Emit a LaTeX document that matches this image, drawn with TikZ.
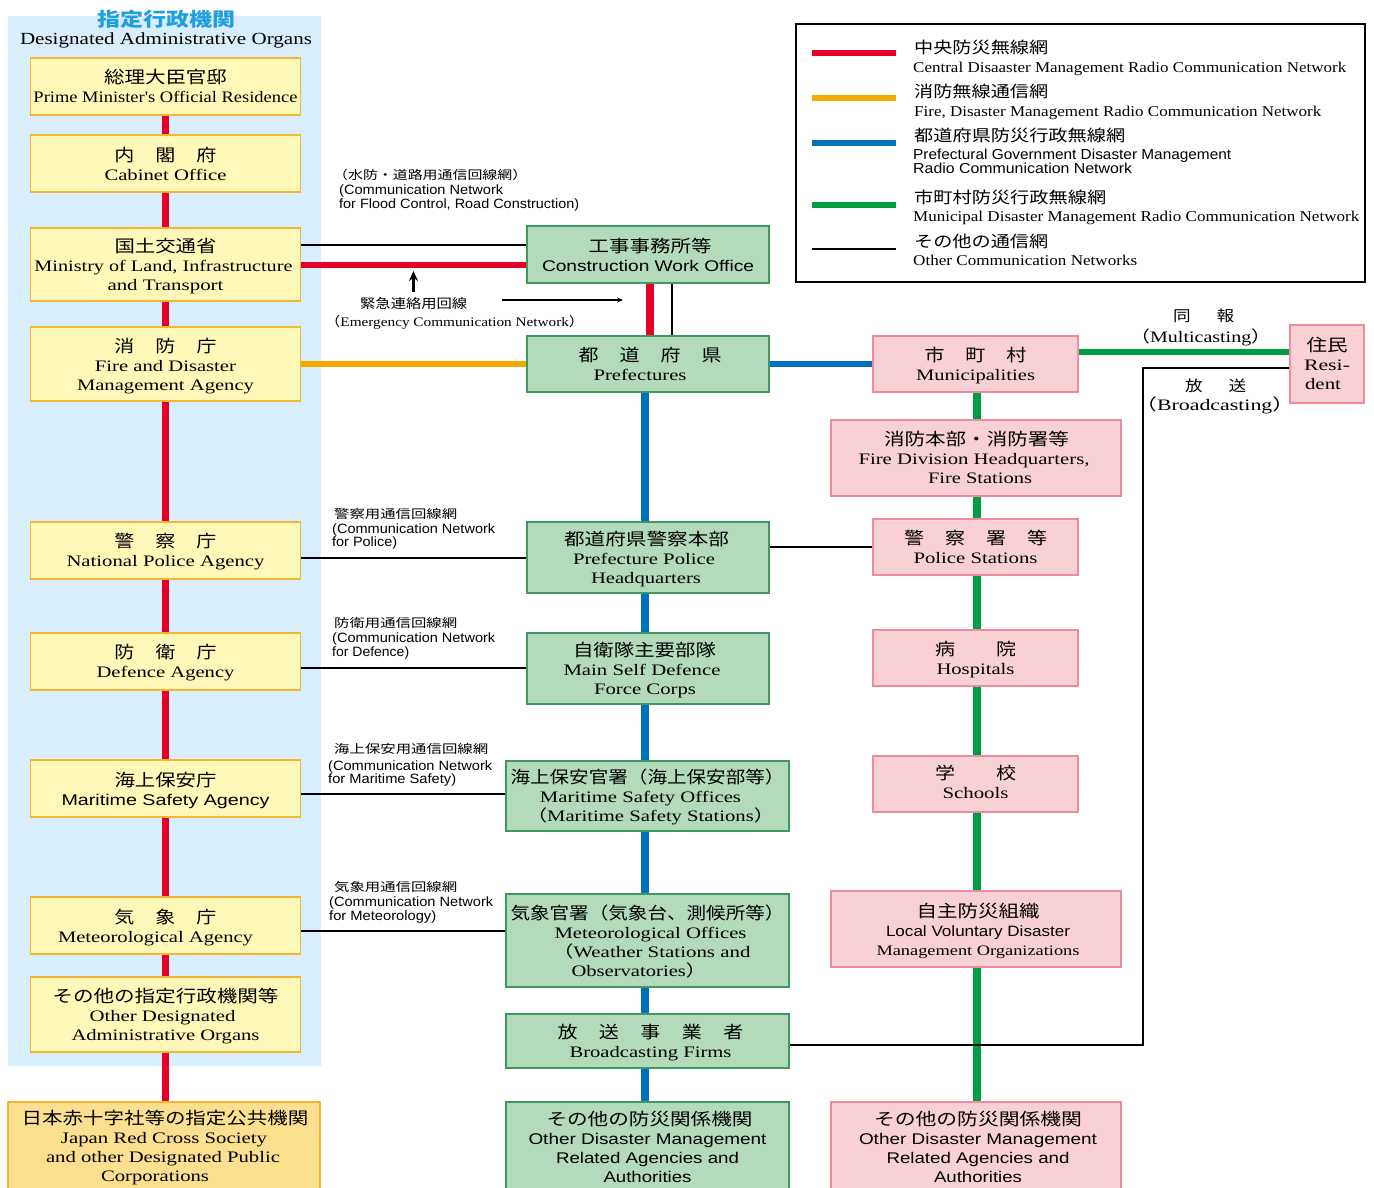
\documentclass[tikz,border=0pt]{standalone}
\usepackage{fontspec}
\usetikzlibrary{arrows.meta}
\setmainfont{Liberation Serif}
\newfontfamily\enfont{Liberation Serif}
\newfontfamily\arfont{Liberation Sans}
\newfontfamily\cjfont{Noto Sans CJK JP}
\definecolor{bgblue}{HTML}{D9EEFC}
\definecolor{yfill}{HTML}{FFF8B8}
\definecolor{yedge}{HTML}{F2B632}
\definecolor{gfill}{HTML}{B2DABB}
\definecolor{gedge}{HTML}{3C9A5F}
\definecolor{pfill}{HTML}{F9D0D3}
\definecolor{pedge}{HTML}{EE8C9C}
\definecolor{ofill}{HTML}{FDE08F}
\definecolor{netred}{HTML}{E60027}
\definecolor{netorange}{HTML}{F2A900}
\definecolor{netblue}{HTML}{0071BC}
\definecolor{netgreen}{HTML}{009E42}
\definecolor{titleblue}{HTML}{1EA0E0}
\def\dy{3.5}
\newcommand\En[3][16]{\raisebox{-\dy pt}[\height][\depth]{\resizebox{#2pt}{\height}{\fontsize{#1}{19}\selectfont\enfont #3}}}
\newcommand\Sa[3][13.5]{\raisebox{-\dy pt}[\height][\depth]{\resizebox{#2pt}{\height}{\fontsize{#1}{19}\selectfont\arfont #3}}}
\newcommand\Ja[3][17]{\raisebox{-\dy pt}[\height][\depth]{\resizebox{#2pt}{\height}{\fontsize{#1}{19}\selectfont\cjfont #3}}}
\newcommand\Jw[3][17]{\raisebox{-\dy pt}[\height][\depth]{\resizebox{#2pt}{\height}{\makebox[\dimexpr #2pt*85/100\relax][s]{\fontsize{#1}{19}\selectfont\cjfont #3}}}}
\newcommand\Jp[1]{{\cjfont #1}}
\newcommand\sh[1]{\kern\dimexpr #1pt*2\relax}
\tikzset{
  x=1pt,y=-1pt,
  orgbox/.style={draw,line width=1.2pt,inner sep=0pt,align=center,font=\fontsize{16}{19}\selectfont},
  ybox/.style={orgbox,fill=yfill,draw=yedge},
  obox/.style={orgbox,fill=ofill,draw=yedge},
  gbox/.style={orgbox,fill=gfill,draw=gedge},
  pbox/.style={orgbox,fill=pfill,draw=pedge},
  lab/.style={inner sep=0pt,anchor=mid west,font=\fontsize{13}{14}\selectfont},
  redl/.style={netred,line width=7.5pt},
  redh/.style={netred,line width=6pt},
  orl/.style={netorange,line width=6pt},
  bluel/.style={netblue,line width=7.5pt},
  blueh/.style={netblue,line width=6pt},
  greenl/.style={netgreen,line width=7.5pt},
  greenh/.style={netgreen,line width=6pt},
  blk/.style={black,line width=2pt},
  legl/.style={line width=6pt},
}
\newcommand\bx[7]{\gdef\dy{#1}\node[#2,minimum width=#5pt-#4pt,minimum height=#7pt-#6pt] (#3) at ({(#4+#5)/2},{(#6+#7)/2})}
\begin{document}
\begin{tikzpicture}
\useasboundingbox (0,0) rectangle (1374,1187);
\clip (0,0) rectangle (1374,1187);
\fill[white] (0,0) rectangle (1374,1187);
\node[fill=bgblue,inner sep=0pt,minimum width=313pt,minimum height=1050pt] (panel) at (164.5,541) {};
\node[inner sep=0pt,anchor=mid] (t1) at (166,20.5) {\Ja[19]{138}{\bfseries\color{titleblue}指定行政機関}};
\node[inner sep=0pt,anchor=mid,font=\fontsize{16}{19}\selectfont] (t2) at (166,38.5) {\En[17]{292}{Designated Administrative Organs}};
% left column
\bx{-1}{ybox}{pm}{30.5}{300.5}{58}{115} {\Ja{123}{総理大臣官邸}\\\En{264}{Prime Minister's Official Residence}};
\bx{0}{ybox}{cab}{30.5}{300.5}{135}{192} {\Jw{102}{内\hfill 閣\hfill 府}\\\En{122}{Cabinet Office}};
\bx{2}{ybox}{mlit}{30.5}{300.5}{228}{301} {\Ja{102}{国土交通省}\\\sh{-2}\En{258}{Ministry of Land, Infrastructure}\\\En{116}{and Transport}};
\bx{2.5}{ybox}{fdma}{30.5}{300.5}{327}{401} {\Jw{102}{消\hfill 防\hfill 庁}\\\En{141}{Fire and Disaster}\\\En{177}{Management Agency}};
\bx{1.5}{ybox}{npa}{30.5}{300.5}{522}{579} {\Jw{102}{警\hfill 察\hfill 庁}\\\En{198}{National Police Agency}};
\bx{1}{ybox}{dfa}{30.5}{300.5}{633}{690} {\Jw{102}{防\hfill 衛\hfill 庁}\\\En{138}{Defence Agency}};
\bx{1.5}{ybox}{msa}{30.5}{300.5}{760}{817} {\Ja{102}{海上保安庁}\\\Sa[15.5]{208}{Maritime Safety Agency}};
\bx{2}{ybox}{jma}{30.5}{300.5}{897}{954} {\Jw{102}{気\hfill 象\hfill 庁}\\\sh{-10}\En{195}{Meteorological Agency}};
\bx{2}{ybox}{oth}{30.5}{300.5}{977}{1052} {\Ja{226}{その他の指定行政機関等}\\\sh{-3}\En{146}{Other Designated}\\\En{188}{Administrative Organs}};
\bx{1}{obox}{jrc}{8}{320}{1102}{1192} {\sh{1}\Ja{287}{日本赤十字社等の指定公共機関}\\\En{206}{Japan Red Cross Society}\\\sh{-1}\En{234}{and other Designated Public}\\\sh{-9}\En{108}{Corporations}};
% middle column
\bx{0.5}{gbox}{con}{527}{769}{226}{283} {\sh{2}\Ja{123}{工事事務所等}\\\Sa[15.5]{212}{Construction Work Office}};
\bx{-0.5}{gbox}{prf}{527}{769}{336}{392} {\sh{2}\Jw{143}{都\hfill 道\hfill 府\hfill 県}\\\sh{-8}\En{93}{Prefectures}};
\bx{2}{gbox}{ppol}{527}{769}{522}{593} {\sh{-1.5}\Ja{165}{都道府県警察本部}\\\sh{-4}\En{142}{Prefecture Police}\\\sh{-2}\En{110}{Headquarters}};
\bx{1.5}{gbox}{sdf}{527}{769}{633}{704} {\sh{-3.5}\Ja{143}{自衛隊主要部隊}\\\sh{-6}\En{157}{Main Self Defence}\\\sh{-3}\En{102}{Force Corps}};
\bx{1.3}{gbox}{mso}{506}{789}{761}{831} {\Ja{274}{海上保安官署（海上保安部等）}\\\sh{-7}\En{201}{Maritime Safety Offices}\\\sh{3}\En{248}{\Jp{（}Maritime Safety Stations\Jp{）}}};
\bx{1}{gbox}{met}{506}{789}{894}{987} {\Ja{274}{気象官署（気象台、測候所等）}\\\sh{3}\En{192}{Meteorological Offices}\\\sh{4}\En{198}{\Jp{（}Weather Stations and}\\\sh{-8.5}\En{135}{Observatories\Jp{）}}};
\bx{2}{gbox}{bro}{506}{789}{1014}{1068} {\sh{3}\Jw{186}{放\hfill 送\hfill 事\hfill 業\hfill 者}\\\sh{3}\En{162}{Broadcasting Firms}};
\bx{0}{gbox}{ogr}{506}{789}{1102}{1192} {\sh{2}\Ja{206}{その他の防災関係機関}\\\Sa[15.5]{238}{Other Disaster Management}\\\Sa[15.5]{183}{Related Agencies and}\\\Sa[15.5]{88}{Authorities}};
% right column
\bx{1.5}{pbox}{mun}{873}{1078}{336}{392} {\Jw{102}{市\hfill 町\hfill 村}\\\En{119}{Municipalities}};
\bx{-0.5}{pbox}{fir}{831}{1121}{420}{496} {\sh{0.5}\Ja{185}{消防本部・消防署等}\\\sh{-2}\En{231}{Fire Division Headquarters,}\\\sh{4}\En{104}{Fire Stations}};
\bx{-0.5}{pbox}{pol}{873}{1078}{519}{575} {\Jw{143}{警\hfill 察\hfill 署\hfill 等}\\\En{124}{Police Stations}};
\bx{1.5}{pbox}{hos}{873}{1078}{630}{686} {\Jw{81}{病\hfill 院}\\\En{78}{Hospitals}};
\bx{-2}{pbox}{sch}{873}{1078}{756}{812} {\Jw{81}{学\hfill 校}\\\En{66}{Schools}};
\bx{2}{pbox}{vol}{831}{1121}{891}{967} {\sh{2}\Ja{123}{自主防災組織}\\\sh{2}\Sa[15]{184}{Local Voluntary Disaster}\\\sh{2}\En[14.5]{203}{Management Organizations}};
\bx{0}{pbox}{opk}{831}{1121}{1102}{1192} {\sh{2}\Ja{208}{その他の防災関係機関}\\\sh{2}\Sa[15.5]{238}{Other Disaster Management}\\\sh{2}\Sa[15.5]{183}{Related Agencies and}\\\sh{2}\Sa[15.5]{88}{Authorities}};
\bx{-0.5}{pbox}{res}{1290}{1364}{325}{403} {\Ja{41}{住民}\\\En{46}{Resi-}\\\sh{-4}\En{36}{dent}};
\gdef\dy{3.5}
% connectors: red trunk
\draw[redl] (pm.south) -- (cab.north);
\draw[redl] (cab.south) -- (mlit.north);
\draw[redl] (mlit.south) -- (fdma.north);
\draw[redl] (fdma.south) -- (npa.north);
\draw[redl] (npa.south) -- (dfa.north);
\draw[redl] (dfa.south) -- (msa.north);
\draw[redl] (msa.south) -- (jma.north);
\draw[redl] (jma.south) -- (oth.north);
\draw[redl] (oth.south) -- (oth.south |- jrc.north);
% horizontal ties
\draw[blk] ([yshift=19.5pt]mlit.east) -- ([yshift=19.5pt]mlit.east -| con.west);
\draw[redh] (mlit.east) -- (mlit.east -| con.west);
\draw[redl] ([xshift=2pt]con.south) -- ([xshift=2pt]prf.north);
\draw[blk] ([xshift=24pt]con.south) -- ([xshift=24pt]prf.north);
\draw[orl] (fdma.east) -- (prf.west);
\draw[blueh] (prf.east) -- (mun.west);
\draw[blk] (ppol.west -| npa.east) -- (ppol.west);
\draw[blk] ([yshift=-6pt]dfa.east) -- ([yshift=-6pt]dfa.east -| sdf.west);
\draw[blk] ([yshift=-5.5pt]msa.east) -- ([yshift=-5.5pt]msa.east -| mso.west);
\draw[blk] ([yshift=-5pt]jma.east) -- ([yshift=-5pt]jma.east -| met.west);
\draw[blk] (pol.west -| ppol.east) -- (pol.west);
% blue trunk
\draw[bluel] ([xshift=-3pt]prf.south) -- ([xshift=-3pt]ppol.north);
\draw[bluel] ([xshift=-3pt]ppol.south) -- ([xshift=-3pt]sdf.north);
\draw[bluel] ([xshift=-3pt]sdf.south) -- ([xshift=-2.5pt]mso.north);
\draw[bluel] ([xshift=-2.5pt]mso.south) -- ([xshift=-2.5pt]met.north);
\draw[bluel] ([xshift=-2.5pt]met.south) -- ([xshift=-2.5pt]bro.north);
\draw[bluel] ([xshift=-2.5pt]bro.south) -- ([xshift=-2.5pt]ogr.north);
% green trunk
\draw[greenl] ([xshift=1.5pt]mun.south) -- ([xshift=1pt]fir.north);
\draw[greenl] ([xshift=1pt]fir.south) -- ([xshift=1.5pt]pol.north);
\draw[greenl] ([xshift=1.5pt]pol.south) -- ([xshift=1.5pt]hos.north);
\draw[greenl] ([xshift=1.5pt]hos.south) -- ([xshift=1.5pt]sch.north);
\draw[greenl] ([xshift=1.5pt]sch.south) -- ([xshift=1pt]vol.north);
\draw[greenl] ([xshift=1pt]vol.south) -- ([xshift=1pt]opk.north);
\draw[greenh] ([yshift=12.5pt]mun.east) -- ([yshift=12.5pt]mun.east -| res.west);
% broadcasting
\coordinate (tv) at (1143,368);
\draw[blk] ([yshift=-4pt]bro.east) -| (tv) -- (tv -| res.west);
% emergency
\node[lab] (em1) at (360,303) {\Ja[13]{107}{緊急連絡用回線}};
\node[lab] (em2) at (325,321) {\En[13]{259}{\Jp{（}Emergency Communication Network\Jp{）}}};
\coordinate (ua) at (413.5,292);
\coordinate (ub) at (413.5,271);
\draw[-{Stealth[length=10pt,width=9pt]},line width=2.2pt] (ua) -- (ub);
\coordinate (ra) at (502,300);
\coordinate (rb) at (623,300);
\draw[-{Stealth[length=6pt,width=5pt]},line width=1.2pt] (ra) -- (rb);
% labels
\node[lab] (a1) at (333,174) {\Ja[12]{194}{（水防・道路用通信回線網）}};
\node[lab] (a2) at (339,189) {\Sa{164}{(Communication Network}};
\node[lab] (a3) at (339,203) {\Sa{240}{for Flood Control, Road Construction)}};
\node[lab] (b1) at (334,513) {\Ja[12]{123}{警察用通信回線網}};
\node[lab] (b2) at (332,528) {\Sa{163}{(Communication Network}};
\node[lab] (b3) at (332,541) {\Sa{65}{for Police)}};
\node[lab] (c1) at (334,622) {\Ja[12]{123}{防衛用通信回線網}};
\node[lab] (c2) at (332,637) {\Sa{163}{(Communication Network}};
\node[lab] (c3) at (332,651) {\Sa{77}{for Defence)}};
\node[lab] (d1) at (334,748) {\Ja[12]{154}{海上保安用通信回線網}};
\node[lab] (d2) at (328,765) {\Sa{164}{(Communication Network}};
\node[lab] (d3) at (328,778) {\Sa{128}{for Maritime Safety)}};
\node[lab] (e1) at (334,886) {\Ja[12]{123}{気象用通信回線網}};
\node[lab] (e2) at (329,901) {\Sa{164}{(Communication Network}};
\node[lab] (e3) at (329,915) {\Sa{107}{for Meteorology)}};
\node[lab] (f1) at (1173,316) {\Jw[15]{61}{同\hfill 報}};
\node[lab] (f2) at (1130,337) {\En[16]{141}{\Jp{（}Multicasting\Jp{）}}};
\node[lab] (g1) at (1185,386) {\Jw[15]{61}{放\hfill 送}};
\node[lab] (g2) at (1135,405) {\En[16]{159}{\Jp{（}Broadcasting\Jp{）}}};
% legend
\node[draw=black,line width=2pt,inner sep=0pt,minimum width=569pt,minimum height=258pt,anchor=north west] (leg) at (795,23) {};
\coordinate (k1a) at (812,53); \coordinate (k1b) at (896,53);
\coordinate (k2a) at (812,98); \coordinate (k2b) at (896,98);
\coordinate (k3a) at (812,143); \coordinate (k3b) at (896,143);
\coordinate (k4a) at (812,204.5); \coordinate (k4b) at (896,204.5);
\coordinate (k5a) at (812,249); \coordinate (k5b) at (896,249);
\draw[legl,netred] (k1a) -- (k1b);
\draw[legl,netorange] (k2a) -- (k2b);
\draw[legl,netblue] (k3a) -- (k3b);
\draw[legl,netgreen] (k4a) -- (k4b);
\draw[blk] (k5a) -- (k5b);
\node[lab] (l1) at (914,48) {\Ja[16]{134}{中央防災無線網}};
\node[lab] (l2) at (913,67) {\En[15]{433}{Central Disaaster Management Radio Communication Network}};
\node[lab] (l3) at (914,92) {\Ja[16]{134}{消防無線通信網}};
\node[lab] (l4) at (914,111) {\En[15]{407}{Fire, Disaster Management Radio Communication Network}};
\node[lab] (l5) at (914,136) {\Ja[16]{211}{都道府県防災行政無線網}};
\node[lab] (l6) at (913,154) {\Sa[14.5]{318}{Prefectural Government Disaster Management}};
\node[lab] (l7) at (913,168) {\Sa[14.5]{219}{Radio Communication Network}};
\node[lab] (l8) at (914,198) {\Ja[16]{192}{市町村防災行政無線網}};
\node[lab] (l9) at (913,216) {\En[15]{446}{Municipal Disaster Management Radio Communication Network}};
\node[lab] (l10) at (914,242) {\Ja[16]{134}{その他の通信網}};
\node[lab] (l11) at (913,260) {\En[15]{224}{Other Communication Networks}};
\end{tikzpicture}
\end{document}
